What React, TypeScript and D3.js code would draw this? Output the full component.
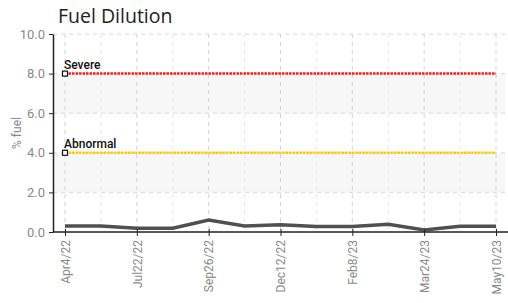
import React, { useRef, useEffect } from 'react';
import * as d3 from 'd3';

const dates = ['Apr4/22', '', 'Jul22/22', '', 'Sep26/22', '', 'Dec12/22', '', 'Feb8/23', '', 'Mar24/23', '', 'May10/23'];
const fuel = [0.3, 0.3, 0.19, 0.19, 0.6, 0.3, 0.36, 0.28, 0.28, 0.39, 0.1, 0.29, 0.29];
const yTicks = [0, 2, 4, 6, 8, 10];
const limits = [
    { name: 'Severe', value: 8, color: '#ff1a1a' },
    { name: 'Abnormal', value: 4, color: '#ffc800' },
];
const bands = [[6, 8], [2, 4]];

const App = () => {
    const ref = useRef<SVGSVGElement>(null);

    useEffect(() => {
        const width = 508;
        const height = 303;
        const margin = { top: 34, right: 3, bottom: 71, left: 53 };
        const font = '"Liberation Sans Narrow", "Roboto", sans-serif';

        const x = d3.scalePoint<number>()
            .domain(d3.range(dates.length))
            .range([65, 496]);

        const y = d3.scaleLinear()
            .domain([0, 10])
            .range([height - margin.bottom, margin.top]);

        const svg = d3.select(ref.current)
            .attr('width', width)
            .attr('height', height);
        svg.selectAll('*').remove();

        const right = width - margin.right;

        // shaded bands
        svg.append('g')
            .selectAll('rect')
            .data(bands)
            .join('rect')
            .attr('x', margin.left)
            .attr('width', right - margin.left)
            .attr('y', d => y(d[1]))
            .attr('height', d => y(d[0]) - y(d[1]))
            .attr('fill', '#f7f7f7');

        // horizontal grid
        svg.append('g')
            .selectAll('line')
            .data(yTicks.filter(d => d > 0))
            .join('line')
            .attr('x1', margin.left)
            .attr('x2', right)
            .attr('y1', d => y(d))
            .attr('y2', d => y(d))
            .attr('stroke', '#d8d8d8')
            .attr('stroke-dasharray', '4,4');

        // vertical grid
        svg.append('g')
            .selectAll('line')
            .data(d3.range(dates.length))
            .join('line')
            .attr('x1', d => x(d)!)
            .attr('x2', d => x(d)!)
            .attr('y1', y(10))
            .attr('y2', y(0))
            .attr('stroke', d => (d % 2 === 0 ? '#d4d4d4' : '#e8e8e8'))
            .attr('stroke-dasharray', '4,4');

        // limit lines
        limits.forEach(l => {
            svg.append('line')
                .attr('x1', x(0)!)
                .attr('x2', x(dates.length - 1)!)
                .attr('y1', y(l.value))
                .attr('y2', y(l.value))
                .attr('stroke', l.color)
                .attr('stroke-width', 2.5)
                .attr('stroke-dasharray', '2.5,1');
            svg.append('rect')
                .attr('x', x(0)! - 2.5)
                .attr('y', y(l.value) - 2.5)
                .attr('width', 5)
                .attr('height', 5)
                .attr('fill', '#fff')
                .attr('stroke', '#111')
                .attr('stroke-width', 1.2);
            svg.append('text')
                .attr('x', x(0)! - 1)
                .attr('y', y(l.value) - 5)
                .attr('font-family', font)
                .attr('font-size', 12)
                .attr('font-weight', 500)
                .attr('fill', '#111')
                .text(l.name);
        });

        // data line
        const line = d3.line<number>()
            .x((d, i) => x(i)!)
            .y(d => y(d));
        svg.append('path')
            .datum(fuel)
            .attr('d', line)
            .attr('fill', 'none')
            .attr('stroke', '#505050')
            .attr('stroke-width', 3.5);

        // y axis
        const yAxis = svg.append('g')
            .attr('transform', `translate(${margin.left},0)`)
            .call(d3.axisLeft(y).tickValues(yTicks).tickFormat(d3.format('.1f')).tickSize(4).tickSizeOuter(0));
        yAxis.select('.domain').attr('stroke', '#222').attr('stroke-width', 1.5);
        yAxis.selectAll('.tick line').attr('stroke', '#222');
        yAxis.selectAll('text')
            .attr('font-family', font)
            .attr('font-size', 13)
            .attr('fill', '#8a8a8a')
            .attr('dx', -1);

        // x axis
        const xAxis = svg.append('g')
            .attr('transform', `translate(0,${y(0)})`)
            .call(d3.axisBottom(x).tickValues(d3.range(0, dates.length, 2)).tickFormat(i => dates[i]).tickSize(4).tickSizeOuter(0));
        xAxis.select('.domain').attr('d', `M${margin.left},0H${width}`).attr('stroke', '#222').attr('stroke-width', 1.5);
        xAxis.selectAll('.tick line').attr('stroke', '#222').attr('y1', -3);
        xAxis.selectAll('text')
            .attr('font-family', font)
            .attr('font-size', 12)
            .attr('fill', '#8a8a8a')
            .attr('transform', 'rotate(-90)')
            .attr('text-anchor', 'end')
            .attr('x', -8)
            .attr('y', 0)
            .attr('dy', '0.35em');

        // y title
        svg.append('text')
            .attr('transform', `translate(21,${(y(0) + y(10)) / 2}) rotate(-90)`)
            .attr('text-anchor', 'middle')
            .attr('font-family', font)
            .attr('font-size', 12)
            .attr('fill', '#8a8a8a')
            .text('% fuel');

        // title
        svg.append('text')
            .attr('x', 58)
            .attr('y', 23)
            .attr('font-family', '"Open Sans", sans-serif')
            .attr('font-size', 19.5)
            .attr('fill', '#222')
            .text('Fuel Dilution');
    }, []);

    return (
        <svg ref={ref} style={{ position: 'absolute', left: 0, top: 0 }}></svg>
    );
};

export default App;
